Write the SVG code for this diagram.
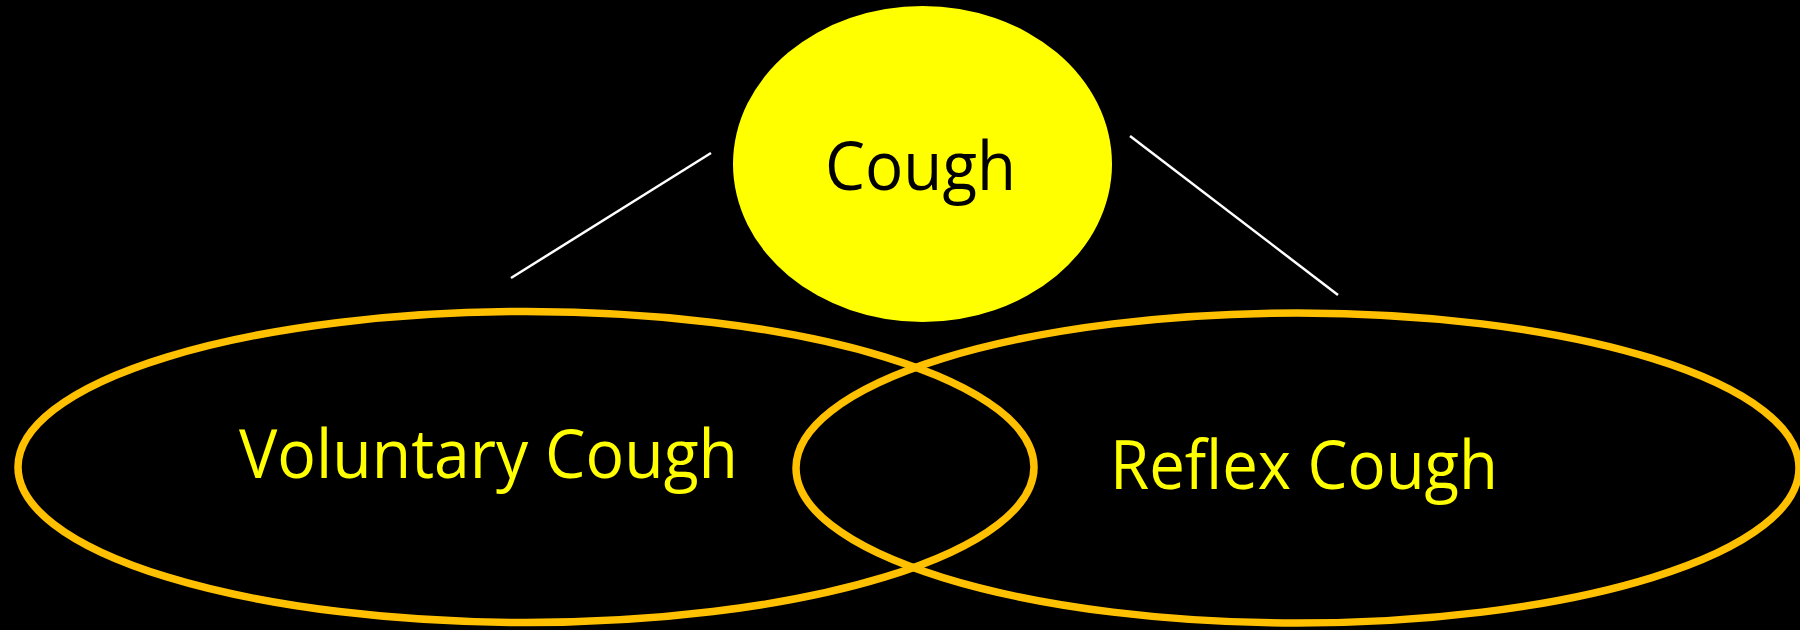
<svg xmlns="http://www.w3.org/2000/svg" width="1800" height="630" viewBox="0 0 1800 630">
<style>
.ring{fill:none;stroke:#FFC000;stroke-width:7.5}
.lbl{font-family:"Open Sans","Liberation Sans",sans-serif;font-size:68px}
.conn{stroke:#FFFFFF;stroke-width:2.5;fill:none}
</style>
<rect x="0" y="0" width="1800" height="630" fill="#000000"/>
<g id="connectors">
<line class="conn" x1="511" y1="278" x2="711" y2="153"/>
<line class="conn" x1="1130" y1="136" x2="1338" y2="295"/>
</g>
<g id="voluntary">
<ellipse class="ring" cx="526" cy="467" rx="508" ry="155.5"/>
<text class="lbl" x="488.5" y="478" text-anchor="middle" fill="#FFFF00" textLength="499" lengthAdjust="spacingAndGlyphs">Voluntary Cough</text>
</g>
<g id="reflex">
<ellipse class="ring" cx="1297.5" cy="468" rx="501.5" ry="155"/>
<text class="lbl" x="1304" y="489" text-anchor="middle" fill="#FFFF00" textLength="388" lengthAdjust="spacingAndGlyphs">Reflex Cough</text>
</g>
<g id="cough">
<ellipse cx="922.5" cy="164" rx="189.5" ry="158" fill="#FFFF00"/>
<text class="lbl" x="920.5" y="190" text-anchor="middle" fill="#000000" textLength="191" lengthAdjust="spacingAndGlyphs">Cough</text>
</g>
</svg>
